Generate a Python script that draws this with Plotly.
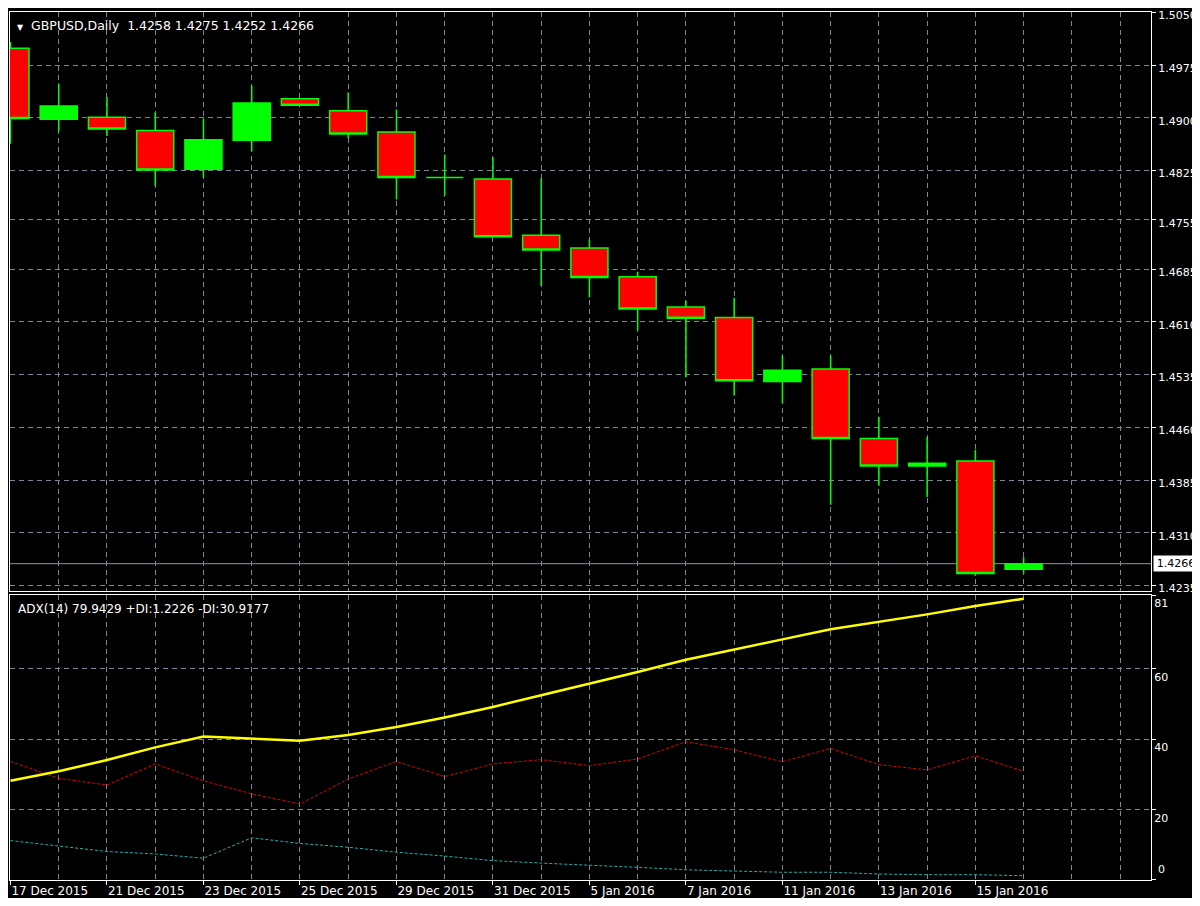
import plotly.graph_objects as go

# ---------------- data ----------------
bar_dates = ["17 Dec 2015", "18 Dec 2015", "21 Dec 2015", "22 Dec 2015", "23 Dec 2015",
             "24 Dec 2015", "25 Dec 2015", "28 Dec 2015", "29 Dec 2015", "30 Dec 2015",
             "31 Dec 2015", "4 Jan 2016", "5 Jan 2016", "6 Jan 2016", "7 Jan 2016",
             "8 Jan 2016", "11 Jan 2016", "12 Jan 2016", "13 Jan 2016", "14 Jan 2016",
             "15 Jan 2016", "18 Jan 2016"]

open_p = [1.4999, 1.4898, 1.4901, 1.4882, 1.4827, 1.4868, 1.4927, 1.4910, 1.4880, 1.4815, 1.4813,
          1.4733, 1.4715, 1.4674, 1.4631, 1.4616, 1.4525, 1.4543, 1.4444, 1.4405, 1.4412, 1.4258]
high_p = [1.5008, 1.4949, 1.4930, 1.4908, 1.4899, 1.4946, 1.4927, 1.4936, 1.4912, 1.4848, 1.4844,
          1.4814, 1.4727, 1.4681, 1.4640, 1.4644, 1.4562, 1.4562, 1.4475, 1.4446, 1.4428, 1.4275]
low_p = [1.4863, 1.4881, 1.4874, 1.4803, 1.4815, 1.4853, 1.4918, 1.4871, 1.4784, 1.4790, 1.4731,
         1.4661, 1.4645, 1.4598, 1.4531, 1.4505, 1.4494, 1.4350, 1.4377, 1.4361, 1.4249, 1.4252]
close_p = [1.4899, 1.4917, 1.4884, 1.4826, 1.4869, 1.4921, 1.4918, 1.4877, 1.4815, 1.4815, 1.4731,
           1.4712, 1.4673, 1.4628, 1.4615, 1.4526, 1.4541, 1.4444, 1.4405, 1.4409, 1.4252, 1.4266]

adx = [28.2, 30.9, 34.1, 37.7, 40.8, 40.2, 39.6, 41.2, 43.5, 46.2, 49.2,
       52.5, 55.7, 59.1, 62.6, 65.6, 68.4, 71.3, 73.3, 75.5, 77.9, 79.9429]
plus_di = [11.2, 9.6, 8.1, 7.4, 6.2, 12.0, 10.4, 9.3, 7.9, 6.8, 5.5,
           4.8, 4.3, 3.6, 2.9, 2.6, 2.2, 2.2, 1.7, 1.5, 1.5, 1.2226]
minus_di = [33.7, 28.9, 27.0, 33.0, 28.2, 24.5, 21.6, 28.7, 33.7, 29.4, 33.0,
            34.2, 32.5, 34.4, 39.3, 37.0, 33.6, 37.4, 32.8, 31.3, 35.3, 30.9177]

x_tick_labels = ["17 Dec 2015", "21 Dec 2015", "23 Dec 2015", "25 Dec 2015", "29 Dec 2015",
                 "31 Dec 2015", "5 Jan 2016", "7 Jan 2016", "11 Jan 2016", "13 Jan 2016",
                 "15 Jan 2016"]
price_ticks = [1.5050, 1.4975, 1.4900, 1.4825, 1.4755, 1.4685, 1.4610, 1.4535,
               1.4460, 1.4385, 1.4310, 1.4235]
adx_ticks = [81, 60, 40, 20, 0]
adx_tick_text = ["81", "60", "40", "20", ""]

symbol = "GBPUSD,Daily"
last_price = close_p[-1]

# ---------------- styling ----------------
GRID = "#7a8795"
DASH = "5px,4px"
FONT = "DejaVu Sans"
FG = "#ffffff"
FS = 11

x = list(range(len(bar_dates)))
n_slots = 24
major_idx = [bar_dates.index(t) for t in x_tick_labels]
minor_idx = [i for i in range(n_slots) if i not in major_idx]
x_range = [-0.01, 23.64]

fig = go.Figure()

fig.add_trace(go.Candlestick(
    x=x, open=open_p, high=high_p, low=low_p, close=close_p,
    xaxis="x", yaxis="y",
    increasing=dict(fillcolor="#00FF00", line=dict(color="#00FF00", width=1.5)),
    decreasing=dict(fillcolor="#FF0000", line=dict(color="#00FF00", width=1.5)),
    whiskerwidth=0, showlegend=False, hoverinfo="skip"))

fig.add_trace(go.Scatter(x=x, y=plus_di, xaxis="x2", yaxis="y2", mode="lines",
                         line=dict(color="#20B2AA", width=1, dash="3px,2px"),
                         showlegend=False, hoverinfo="skip"))
fig.add_trace(go.Scatter(x=x, y=minus_di, xaxis="x2", yaxis="y2", mode="lines",
                         line=dict(color="#E00000", width=1, dash="3px,2px"),
                         showlegend=False, hoverinfo="skip"))
fig.add_trace(go.Scatter(x=x, y=adx, xaxis="x2", yaxis="y2", mode="lines",
                         line=dict(color="#FFFF00", width=2.5),
                         showlegend=False, hoverinfo="skip"))

minor_cfg = dict(tickvals=minor_idx, showgrid=True, gridcolor=GRID, griddash=DASH,
                 gridwidth=1, ticks="")

common_x = dict(range=x_range, tickmode="array", tickvals=major_idx,
                showgrid=True, gridcolor=GRID, griddash=DASH, gridwidth=1,
                minor=minor_cfg, zeroline=False, automargin=False,
                showline=True, mirror=True, linecolor=FG, linewidth=1)

common_y = dict(side="right", tickmode="array", ticks="outside", ticklen=4, tickcolor=FG,
                tickfont=dict(family=FONT, size=FS, color=FG), automargin=False,
                ticklabeloverflow="allow",
                showgrid=True, gridcolor=GRID, griddash=DASH, gridwidth=1,
                zeroline=False, showline=True, mirror=True, linecolor=FG, linewidth=1)

# page body adds an 8px offset; figure is sized so the plot lands where the reference has it
fig.update_layout(
    width=1192, height=890,
    paper_bgcolor="#000000", plot_bgcolor="#000000",
    margin=dict(l=2, r=49, t=4, b=18, pad=0, autoexpand=False),
    boxgap=0.2, boxgroupgap=0.04,
    font=dict(family=FONT, size=FS, color=FG),
    xaxis=dict(common_x, anchor="y", showticklabels=False, ticks="",
               rangeslider=dict(visible=False)),
    xaxis2=dict(common_x, anchor="y2", ticktext=x_tick_labels, ticks="outside",
                ticklen=4, tickcolor=FG, ticklabelposition="outside right",
                tickfont=dict(family=FONT, size=12, color=FG)),
    yaxis=dict(common_y, domain=[0.3324, 1.0], anchor="x",
               range=[1.42265, 1.50505], tickvals=price_ticks,
               ticktext=[f"{v:.4f}" for v in price_ticks], ticklabelshift=3),
    yaxis2=dict(common_y, domain=[0.0, 0.3283], anchor="x2",
                range=[0, 81], tickvals=adx_ticks, ticktext=adx_tick_text,
                ticklabelposition="outside bottom"),
)

# last price line
fig.add_shape(type="line", xref="x domain", yref="y", x0=0, x1=1, y0=last_price, y1=last_price,
              line=dict(color="#8a96a3", width=1), layer="below")

# last price label box
fig.add_annotation(xref="x domain", yref="y", x=1, y=last_price, xanchor="left", yanchor="middle",
                   text=f"{last_price:.4f}", showarrow=False, xshift=2, width=42, align="center",
                   bgcolor="#ffffff", borderpad=1,
                   font=dict(family=FONT, size=FS, color="#000000"))

# ADX zero label
fig.add_annotation(xref="x2 domain", yref="y2", x=1, y=0, xanchor="left", yanchor="bottom",
                   text="0", showarrow=False, xshift=5, yshift=2,
                   font=dict(family=FONT, size=FS, color=FG))

# headers
nb = "\u00a0"
header = (f"<span style='font-size:8px'>▼</span>{nb}{nb}{symbol}{nb}{nb}"
          f"{open_p[-1]:.4f} {high_p[-1]:.4f} {low_p[-1]:.4f} {close_p[-1]:.4f}")
fig.add_annotation(xref="x domain", yref="y domain", x=0, y=1, xanchor="left", yanchor="top",
                   text=header, showarrow=False, xshift=5, yshift=-4,
                   font=dict(family=FONT, size=12.5, color=FG))

adx_header = f"ADX(14) {adx[-1]:.4f} +DI:{plus_di[-1]:.4f} -DI:{minus_di[-1]:.4f}"
fig.add_annotation(xref="x2 domain", yref="y2 domain", x=0, y=1, xanchor="left", yanchor="top",
                   text=adx_header, showarrow=False, xshift=6, yshift=-5,
                   font=dict(family=FONT, size=12, color=FG))

fig.write_html("out.html")
